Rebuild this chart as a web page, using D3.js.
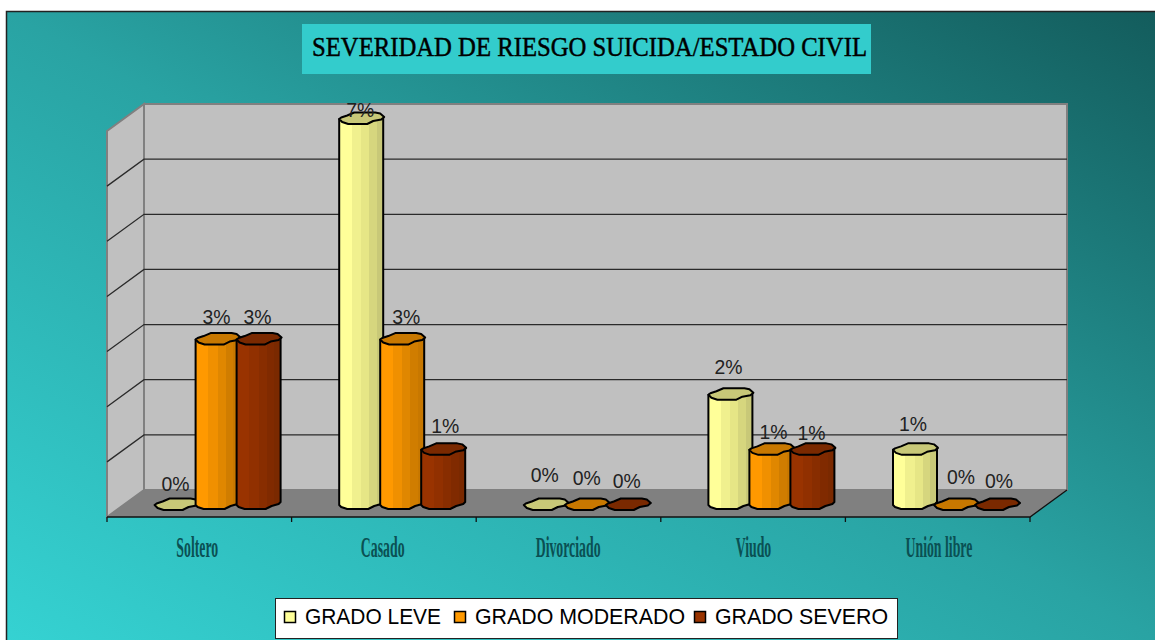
<!DOCTYPE html>
<html><head><meta charset="utf-8">
<style>html,body{margin:0;padding:0;background:#fff;overflow:hidden}svg{display:block}</style>
<script src="https://cdnjs.cloudflare.com/ajax/libs/d3/7.8.5/d3.min.js"></script>
</head><body><svg id="c" width="1155" height="640"></svg>
<script>
const titleText = "SEVERIDAD DE RIESGO SUICIDA/ESTADO CIVIL";
const categories = ["Soltero","Casado","Divorciado","Viudo","Unión libre"];
const seriesNames = ["GRADO LEVE","GRADO MODERADO","GRADO SEVERO"];
const leve = [0,7,0,2,1];
const moderado = [3,3,0,1,0];
const severo = [3,1,0,1,0];
const seriesValues = [leve,moderado,severo];
// hand placement of the value labels, as the original chart has them
const labelLift = [[14,2,23,21,19],[16,16,20,11,21],[16,17,17,10,17]];
const labelShift = [[21,21,21,20,20],[21,26,22,24,27],[21,24,21,21,24]];

const svg = d3.select("#c");
const defs = svg.append("defs");
const L = 107, R = 1030, dx = 37, dy = 27, floorBack = 490, wallTop = 104;
const x = d3.scaleBand().domain(categories).range([L,R]);
const xs = d3.scaleBand().domain(seriesNames).range([47.6,170.6]);
const y = d3.scaleLinear().domain([0,7]).range([floorBack,wallTop]);

const bg = defs.append("linearGradient").attr("id","bg").attr("gradientUnits","userSpaceOnUse")
  .attr("x1",316).attr("y1",810).attr("x2",844).attr("y2",-160);
bg.append("stop").attr("offset",0).attr("stop-color","#35d2d2");
bg.append("stop").attr("offset",0.5).attr("stop-color","#29a3a3");
bg.append("stop").attr("offset",1).attr("stop-color","#135c5c");
svg.append("rect").attr("x",6.5).attr("y",11.5).attr("width",1160).attr("height",640)
  .attr("fill","url(#bg)").attr("stroke","#222").attr("stroke-width",1.5);

// title
svg.append("rect").attr("x",302).attr("y",24).attr("width",569).attr("height",50).attr("fill","#33cccc");
svg.append("text").attr("x",312).attr("y",56).text(titleText)
  .attr("font-family","Liberation Serif").attr("font-size",27).attr("fill","#000")
  .attr("stroke","#000").attr("stroke-width",0.45)
  .attr("textLength",555).attr("lengthAdjust","spacingAndGlyphs");

// walls and floor
const wall = "#c0c0c0", edge = "#808080";
svg.append("rect").attr("x",L+dx).attr("y",wallTop).attr("width",R-L).attr("height",floorBack-wallTop)
  .attr("fill",wall).attr("stroke",edge).attr("stroke-width",2);
svg.append("polygon").attr("points",[[L,wallTop+dy],[L+dx,wallTop],[L+dx,floorBack],[L,floorBack+dy]].join(" "))
  .attr("fill",wall).attr("stroke",edge).attr("stroke-width",2);
svg.append("polygon").attr("points",[[L+dx,floorBack],[R+dx,floorBack],[R,floorBack+dy],[L,floorBack+dy]].join(" "))
  .attr("fill",edge);

// gridlines
const gridVals = y.ticks(7).filter(v=>v>0&&v<7);
svg.append("g").selectAll("path").data(gridVals).join("path")
  .attr("d",v=>`M${L},${y(v)+dy}L${L+dx},${y(v)}L${R+dx},${y(v)}`)
  .attr("fill","none").attr("stroke","#2a2a2a").attr("stroke-width",1.3);

// front axis
const edges = categories.map(c=>x(c)).concat([R]);
svg.append("path").attr("d",`M${L},${floorBack+dy}H${R}L${R+dx},${floorBack}`)
  .attr("fill","none").attr("stroke","#111").attr("stroke-width",1.3);
svg.append("g").selectAll("line").data(edges).join("line")
  .attr("x1",d=>d).attr("x2",d=>d).attr("y1",floorBack+dy).attr("y2",floorBack+dy+5)
  .attr("stroke","#111").attr("stroke-width",1.3);
svg.append("g").selectAll("text").data(categories).join("text")
  .attr("transform",c=>`translate(${x(c)+x.bandwidth()/2+(categories.indexOf(c)*0.8-2)},557) scale(0.46,1)`).text(c=>c)
  .attr("text-anchor","middle").attr("font-family","Liberation Serif").attr("font-weight","bold").attr("font-size",30)
  .attr("fill","#0a5053");

// bars
const palettes = [
  {s:["#ffff99","#f0f08e","#e6e686","#d6d67e","#c8c878"],top:"#c8c878"},
  {s:["#ff9900","#f09000","#e08700","#d07d00","#c87800"],top:"#c87800"},
  {s:["#993300","#913000","#882d00","#802a00","#7a2900"],top:"#7a2900"}
];
palettes.forEach((p,i)=>{
  const g = defs.append("linearGradient").attr("id","bar"+i);
  const cuts=[0,.28,.5,.68,.85,1];
  p.s.forEach((col,k)=>{
    g.append("stop").attr("offset",cuts[k]).attr("stop-color",col);
    g.append("stop").attr("offset",cuts[k+1]).attr("stop-color",col);
  });
});
const baseBottom = floorBack+19;
const frontY = v => y(v)+15;
const bodyPts = (a,t)=>[[a,t],[a,baseBottom-4],[a+2,baseBottom-2],[a+8,baseBottom],[a+29,baseBottom],[a+35,baseBottom-3],[a+42,baseBottom-5],[a+44,baseBottom-7],[a+44,t-2]];
const topPts = (a,t)=>[[a,t],[a+3,t+3],[a+9,t+5],[a+28,t+5],[a+34,t+2],[a+42,t+.5],[a+45,t-2],[a+41,t-5.5],[a+36,t-6.5],[a+15,t-6.5],[a+8,t-3.5],[a+2,t-1.5]];
const flat = r=>r.join(" ");
const rows = [];
seriesNames.forEach((s,si)=>categories.forEach((c,ci)=>rows.push({si,ci,s,c,v:seriesValues[si][ci]})));
const bars = svg.append("g").selectAll("g").data(rows).join("g");
bars.filter(d=>d.v>0).append("polygon")
  .attr("points",d=>flat(bodyPts(x(d.c)+xs(d.s),frontY(d.v))))
  .attr("fill",d=>`url(#bar${d.si})`).attr("stroke","#000").attr("stroke-width",2).attr("stroke-linejoin","round");
bars.append("polygon")
  .attr("points",d=>flat(topPts(x(d.c)+xs(d.s),frontY(d.v))))
  .attr("fill",d=>palettes[d.si].top).attr("stroke","#000").attr("stroke-width",2).attr("stroke-linejoin","round");

// value labels
svg.append("g").selectAll("text").data(rows).join("text")
  .attr("x",d=>x(d.c)+xs(d.s)+labelShift[d.si][d.ci]-14)
  .attr("y",d=>frontY(d.v)-labelLift[d.si][d.ci])
  .text(d=>d.v+"%")
  .attr("font-family","Liberation Sans").attr("font-size",20).attr("fill","#222")
  .attr("textLength",28).attr("lengthAdjust","spacingAndGlyphs");

// legend
svg.append("rect").attr("x",275.5).attr("y",598.5).attr("width",622).attr("height",40)
  .attr("fill","#fff").attr("stroke","#222").attr("stroke-width",1);
const legendX = d3.scaleOrdinal().domain(seriesNames).range([284,454,694]);
const legendW = d3.scaleOrdinal().domain(seriesNames).range([136,210,173]);
const lg = svg.append("g").selectAll("g").data(seriesNames).join("g");
lg.append("rect").attr("x",s=>legendX(s)+.5).attr("y",611.5).attr("width",11).attr("height",11)
  .attr("fill",(s,i)=>palettes[i].s[0]).attr("stroke","#000").attr("stroke-width",1.5);
lg.append("text").attr("x",s=>legendX(s)+21).attr("y",624).text(s=>s)
  .attr("font-family","Liberation Sans").attr("font-size",22).attr("fill","#000")
  .attr("textLength",s=>legendW(s)).attr("lengthAdjust","spacingAndGlyphs");
</script></body></html>
